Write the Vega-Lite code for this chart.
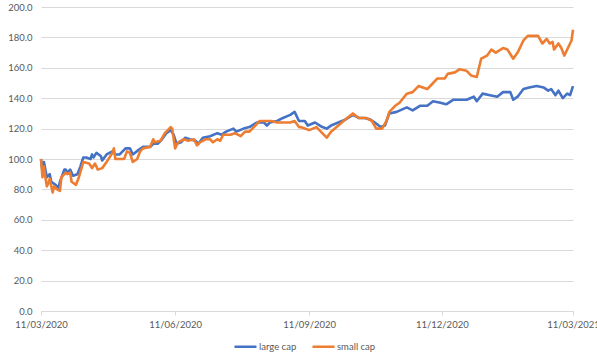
{
  "$schema": "https://vega.github.io/schema/vega-lite/v6.json",
  "width": 532,
  "height": 304,
  "autosize": "none",
  "padding": {"left": 41, "top": 7, "right": 24, "bottom": 52},
  "background": "white",
  "config": {
    "view": {"stroke": null},
    "font": "Lato"
  },
  "data": {"values": [
    {"date":"2020-03-11","series":"large cap","value":100},{"date":"2020-03-12","series":"large cap","value":92},{"date":"2020-03-13","series":"large cap","value":98},{"date":"2020-03-15","series":"large cap","value":88},{"date":"2020-03-17","series":"large cap","value":90},{"date":"2020-03-18","series":"large cap","value":85},{"date":"2020-03-21","series":"large cap","value":83},{"date":"2020-03-23","series":"large cap","value":81},{"date":"2020-03-24","series":"large cap","value":85},{"date":"2020-03-27","series":"large cap","value":93},{"date":"2020-03-28","series":"large cap","value":93},{"date":"2020-03-29","series":"large cap","value":91},{"date":"2020-03-31","series":"large cap","value":93},{"date":"2020-04-02","series":"large cap","value":89},{"date":"2020-04-05","series":"large cap","value":90},{"date":"2020-04-07","series":"large cap","value":95},{"date":"2020-04-09","series":"large cap","value":101},{"date":"2020-04-11","series":"large cap","value":101},{"date":"2020-04-14","series":"large cap","value":100},{"date":"2020-04-15","series":"large cap","value":103},{"date":"2020-04-16","series":"large cap","value":101},{"date":"2020-04-18","series":"large cap","value":104},{"date":"2020-04-21","series":"large cap","value":102},{"date":"2020-04-22","series":"large cap","value":99},{"date":"2020-04-25","series":"large cap","value":103},{"date":"2020-04-29","series":"large cap","value":105},{"date":"2020-05-01","series":"large cap","value":103},{"date":"2020-05-04","series":"large cap","value":103},{"date":"2020-05-08","series":"large cap","value":107},{"date":"2020-05-11","series":"large cap","value":107},{"date":"2020-05-13","series":"large cap","value":103},{"date":"2020-05-17","series":"large cap","value":106},{"date":"2020-05-20","series":"large cap","value":108},{"date":"2020-05-25","series":"large cap","value":108},{"date":"2020-05-27","series":"large cap","value":110},{"date":"2020-05-30","series":"large cap","value":110},{"date":"2020-06-02","series":"large cap","value":113},{"date":"2020-06-05","series":"large cap","value":117},{"date":"2020-06-08","series":"large cap","value":119},{"date":"2020-06-10","series":"large cap","value":116},{"date":"2020-06-12","series":"large cap","value":110},{"date":"2020-06-15","series":"large cap","value":111},{"date":"2020-06-18","series":"large cap","value":114},{"date":"2020-06-21","series":"large cap","value":113},{"date":"2020-06-25","series":"large cap","value":112},{"date":"2020-06-27","series":"large cap","value":110},{"date":"2020-06-30","series":"large cap","value":114},{"date":"2020-07-05","series":"large cap","value":115},{"date":"2020-07-10","series":"large cap","value":117},{"date":"2020-07-13","series":"large cap","value":116},{"date":"2020-07-16","series":"large cap","value":118},{"date":"2020-07-21","series":"large cap","value":120},{"date":"2020-07-23","series":"large cap","value":118},{"date":"2020-07-28","series":"large cap","value":120},{"date":"2020-08-01","series":"large cap","value":121},{"date":"2020-08-06","series":"large cap","value":124},{"date":"2020-08-11","series":"large cap","value":124},{"date":"2020-08-13","series":"large cap","value":122},{"date":"2020-08-15","series":"large cap","value":124},{"date":"2020-08-20","series":"large cap","value":125},{"date":"2020-08-24","series":"large cap","value":127},{"date":"2020-08-29","series":"large cap","value":129},{"date":"2020-09-01","series":"large cap","value":131},{"date":"2020-09-04","series":"large cap","value":125},{"date":"2020-09-08","series":"large cap","value":125},{"date":"2020-09-10","series":"large cap","value":122},{"date":"2020-09-15","series":"large cap","value":124},{"date":"2020-09-20","series":"large cap","value":121},{"date":"2020-09-23","series":"large cap","value":120},{"date":"2020-09-26","series":"large cap","value":122},{"date":"2020-10-01","series":"large cap","value":124},{"date":"2020-10-06","series":"large cap","value":126},{"date":"2020-10-11","series":"large cap","value":129},{"date":"2020-10-15","series":"large cap","value":127},{"date":"2020-10-19","series":"large cap","value":127},{"date":"2020-10-23","series":"large cap","value":126},{"date":"2020-10-26","series":"large cap","value":124},{"date":"2020-10-30","series":"large cap","value":121},{"date":"2020-11-02","series":"large cap","value":122},{"date":"2020-11-05","series":"large cap","value":130},{"date":"2020-11-10","series":"large cap","value":131},{"date":"2020-11-17","series":"large cap","value":134},{"date":"2020-11-21","series":"large cap","value":132},{"date":"2020-11-26","series":"large cap","value":135},{"date":"2020-12-01","series":"large cap","value":135},{"date":"2020-12-05","series":"large cap","value":138},{"date":"2020-12-10","series":"large cap","value":137},{"date":"2020-12-14","series":"large cap","value":136},{"date":"2020-12-19","series":"large cap","value":139},{"date":"2020-12-23","series":"large cap","value":139},{"date":"2020-12-28","series":"large cap","value":139},{"date":"2021-01-02","series":"large cap","value":141},{"date":"2021-01-04","series":"large cap","value":138},{"date":"2021-01-08","series":"large cap","value":143},{"date":"2021-01-13","series":"large cap","value":142},{"date":"2021-01-18","series":"large cap","value":141},{"date":"2021-01-22","series":"large cap","value":144},{"date":"2021-01-27","series":"large cap","value":144},{"date":"2021-01-29","series":"large cap","value":139},{"date":"2021-02-01","series":"large cap","value":141},{"date":"2021-02-05","series":"large cap","value":146},{"date":"2021-02-09","series":"large cap","value":147},{"date":"2021-02-14","series":"large cap","value":148},{"date":"2021-02-19","series":"large cap","value":147},{"date":"2021-02-22","series":"large cap","value":145},{"date":"2021-02-24","series":"large cap","value":146},{"date":"2021-02-27","series":"large cap","value":142},{"date":"2021-03-01","series":"large cap","value":145},{"date":"2021-03-04","series":"large cap","value":140},{"date":"2021-03-07","series":"large cap","value":143},{"date":"2021-03-09","series":"large cap","value":142},{"date":"2021-03-11","series":"large cap","value":148},
    {"date":"2020-03-11","series":"small cap","value":100},{"date":"2020-03-12","series":"small cap","value":88},{"date":"2020-03-13","series":"small cap","value":95},{"date":"2020-03-14","series":"small cap","value":88},{"date":"2020-03-15","series":"small cap","value":82},{"date":"2020-03-16","series":"small cap","value":84},{"date":"2020-03-17","series":"small cap","value":87},{"date":"2020-03-19","series":"small cap","value":78},{"date":"2020-03-20","series":"small cap","value":82},{"date":"2020-03-22","series":"small cap","value":80},{"date":"2020-03-24","series":"small cap","value":79},{"date":"2020-03-25","series":"small cap","value":88},{"date":"2020-03-28","series":"small cap","value":91},{"date":"2020-03-29","series":"small cap","value":90},{"date":"2020-03-31","series":"small cap","value":91},{"date":"2020-04-01","series":"small cap","value":85},{"date":"2020-04-04","series":"small cap","value":83},{"date":"2020-04-06","series":"small cap","value":88},{"date":"2020-04-09","series":"small cap","value":98},{"date":"2020-04-13","series":"small cap","value":97},{"date":"2020-04-15","series":"small cap","value":94},{"date":"2020-04-17","series":"small cap","value":97},{"date":"2020-04-19","series":"small cap","value":93},{"date":"2020-04-22","series":"small cap","value":94},{"date":"2020-04-25","series":"small cap","value":98},{"date":"2020-04-29","series":"small cap","value":104},{"date":"2020-04-30","series":"small cap","value":107},{"date":"2020-05-01","series":"small cap","value":100},{"date":"2020-05-04","series":"small cap","value":100},{"date":"2020-05-07","series":"small cap","value":100},{"date":"2020-05-09","series":"small cap","value":105},{"date":"2020-05-11","series":"small cap","value":104},{"date":"2020-05-13","series":"small cap","value":98},{"date":"2020-05-16","series":"small cap","value":100},{"date":"2020-05-18","series":"small cap","value":105},{"date":"2020-05-20","series":"small cap","value":107},{"date":"2020-05-25","series":"small cap","value":108},{"date":"2020-05-27","series":"small cap","value":113},{"date":"2020-05-28","series":"small cap","value":111},{"date":"2020-06-01","series":"small cap","value":112},{"date":"2020-06-04","series":"small cap","value":117},{"date":"2020-06-08","series":"small cap","value":121},{"date":"2020-06-09","series":"small cap","value":120},{"date":"2020-06-11","series":"small cap","value":107},{"date":"2020-06-13","series":"small cap","value":111},{"date":"2020-06-17","series":"small cap","value":113},{"date":"2020-06-20","series":"small cap","value":112},{"date":"2020-06-24","series":"small cap","value":113},{"date":"2020-06-26","series":"small cap","value":109},{"date":"2020-06-28","series":"small cap","value":111},{"date":"2020-07-02","series":"small cap","value":113},{"date":"2020-07-05","series":"small cap","value":113},{"date":"2020-07-07","series":"small cap","value":111},{"date":"2020-07-10","series":"small cap","value":113},{"date":"2020-07-12","series":"small cap","value":112},{"date":"2020-07-14","series":"small cap","value":116},{"date":"2020-07-19","series":"small cap","value":116},{"date":"2020-07-22","series":"small cap","value":117},{"date":"2020-07-26","series":"small cap","value":115},{"date":"2020-07-29","series":"small cap","value":118},{"date":"2020-08-01","series":"small cap","value":118},{"date":"2020-08-05","series":"small cap","value":122},{"date":"2020-08-08","series":"small cap","value":125},{"date":"2020-08-13","series":"small cap","value":125},{"date":"2020-08-16","series":"small cap","value":125},{"date":"2020-08-20","series":"small cap","value":124},{"date":"2020-08-24","series":"small cap","value":124},{"date":"2020-08-29","series":"small cap","value":124},{"date":"2020-09-01","series":"small cap","value":125},{"date":"2020-09-04","series":"small cap","value":121},{"date":"2020-09-05","series":"small cap","value":121},{"date":"2020-09-08","series":"small cap","value":120},{"date":"2020-09-11","series":"small cap","value":119},{"date":"2020-09-16","series":"small cap","value":121},{"date":"2020-09-20","series":"small cap","value":117},{"date":"2020-09-23","series":"small cap","value":114},{"date":"2020-09-26","series":"small cap","value":118},{"date":"2020-10-01","series":"small cap","value":122},{"date":"2020-10-07","series":"small cap","value":127},{"date":"2020-10-11","series":"small cap","value":130},{"date":"2020-10-15","series":"small cap","value":127},{"date":"2020-10-20","series":"small cap","value":127},{"date":"2020-10-24","series":"small cap","value":125},{"date":"2020-10-27","series":"small cap","value":120},{"date":"2020-10-31","series":"small cap","value":120},{"date":"2020-11-03","series":"small cap","value":125},{"date":"2020-11-05","series":"small cap","value":131},{"date":"2020-11-09","series":"small cap","value":135},{"date":"2020-11-12","series":"small cap","value":137},{"date":"2020-11-17","series":"small cap","value":143},{"date":"2020-11-21","series":"small cap","value":144},{"date":"2020-11-25","series":"small cap","value":148},{"date":"2020-11-28","series":"small cap","value":147},{"date":"2020-12-01","series":"small cap","value":146},{"date":"2020-12-05","series":"small cap","value":150},{"date":"2020-12-08","series":"small cap","value":153},{"date":"2020-12-13","series":"small cap","value":153},{"date":"2020-12-15","series":"small cap","value":156},{"date":"2020-12-20","series":"small cap","value":157},{"date":"2020-12-23","series":"small cap","value":159},{"date":"2020-12-28","series":"small cap","value":158},{"date":"2020-12-31","series":"small cap","value":155},{"date":"2021-01-04","series":"small cap","value":154},{"date":"2021-01-07","series":"small cap","value":166},{"date":"2021-01-11","series":"small cap","value":168},{"date":"2021-01-14","series":"small cap","value":172},{"date":"2021-01-17","series":"small cap","value":170},{"date":"2021-01-22","series":"small cap","value":173},{"date":"2021-01-25","series":"small cap","value":172},{"date":"2021-01-29","series":"small cap","value":166},{"date":"2021-02-01","series":"small cap","value":170},{"date":"2021-02-05","series":"small cap","value":178},{"date":"2021-02-08","series":"small cap","value":181},{"date":"2021-02-12","series":"small cap","value":181},{"date":"2021-02-15","series":"small cap","value":181},{"date":"2021-02-18","series":"small cap","value":176},{"date":"2021-02-21","series":"small cap","value":179},{"date":"2021-02-23","series":"small cap","value":176},{"date":"2021-02-25","series":"small cap","value":177},{"date":"2021-02-26","series":"small cap","value":172},{"date":"2021-03-01","series":"small cap","value":176},{"date":"2021-03-03","series":"small cap","value":173},{"date":"2021-03-05","series":"small cap","value":168},{"date":"2021-03-08","series":"small cap","value":174},{"date":"2021-03-10","series":"small cap","value":178},{"date":"2021-03-11","series":"small cap","value":185}
  ]},
  "mark": {"type": "line", "strokeWidth": 2.6, "strokeJoin": "round"},
  "encoding": {
    "x": {
      "field": "date",
      "type": "temporal",
      "scale": {"type": "utc", "domain": [{"year": 2020, "month": 3, "date": 11, "utc": true}, {"year": 2021, "month": 3, "date": 11, "utc": true}]},
      "axis": {
        "title": null,
        "grid": false,
        "values": [
          {"year": 2020, "month": 3, "date": 11, "utc": true},
          {"year": 2020, "month": 6, "date": 11, "utc": true},
          {"year": 2020, "month": 9, "date": 11, "utc": true},
          {"year": 2020, "month": 12, "date": 11, "utc": true},
          {"year": 2021, "month": 3, "date": 11, "utc": true}
        ],
        "labelExpr": "utcFormat(datum.value, '%d/%m/%Y')",
        "domainColor": "#d9d9d9",
        "domainWidth": 1,
        "tickColor": "#d9d9d9",
        "tickSize": 4,
        "labelColor": "#595959",
        "labelFont": "Lato",
        "labelFontSize": 9.5,
        "labelPadding": 4,
        "labelFlush": false,
        "labelOverlap": false
      }
    },
    "y": {
      "field": "value",
      "type": "quantitative",
      "scale": {"domain": [0, 200], "nice": false, "zero": true},
      "axis": {
        "title": null,
        "values": [0, 20, 40, 60, 80, 100, 120, 140, 160, 180, 200],
        "format": ".1f",
        "domain": false,
        "ticks": false,
        "gridColor": "#d9d9d9",
        "gridWidth": 1,
        "labelColor": "#595959",
        "labelFont": "Lato",
        "labelFontSize": 9.5,
        "labelPadding": 9
      }
    },
    "color": {
      "field": "series",
      "type": "nominal",
      "scale": {"domain": ["large cap", "small cap"], "range": ["#4472C4", "#ED7D31"]},
      "legend": {
        "title": null,
        "orient": "none",
        "direction": "horizontal",
        "legendX": 192,
        "legendY": 327,
        "symbolType": "stroke",
        "symbolSize": 484,
        "symbolStrokeWidth": 2.5,
        "labelColor": "#595959",
        "labelFont": "Lato",
        "labelFontSize": 9.5,
        "labelOffset": 1,
        "columnPadding": 10
      }
    }
  }
}
